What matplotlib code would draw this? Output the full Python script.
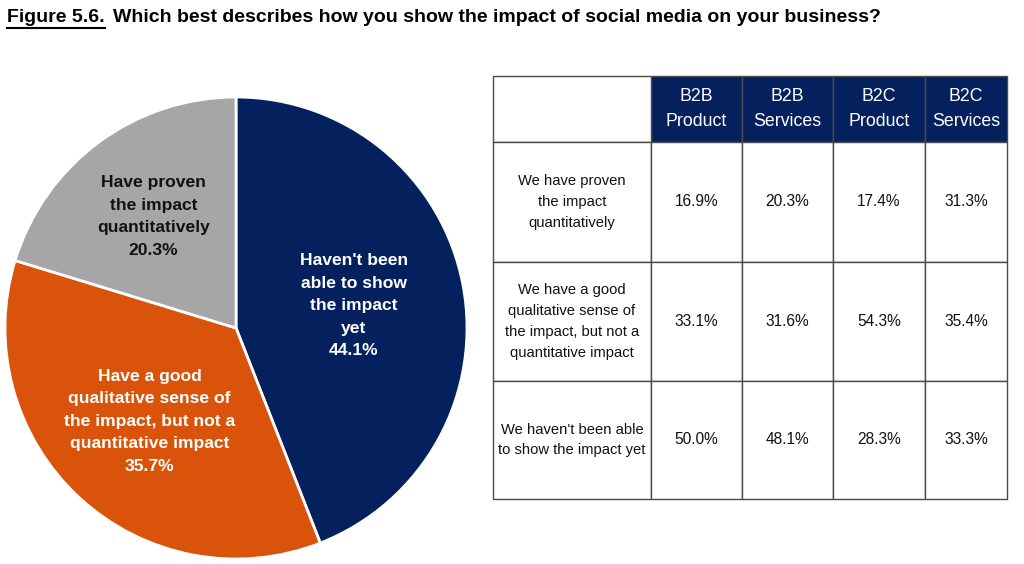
import numpy as np
import matplotlib
matplotlib.use('Agg')
import matplotlib.pyplot as plt
from matplotlib.patches import Rectangle

plt.rcParams['font.family'] = ['Liberation Sans', 'DejaVu Sans']

# pie data (clockwise from 12 o'clock)
pie_labels = ["Haven't been\nable to show\nthe impact\nyet",
              "Have a good\nqualitative sense of\nthe impact, but not a\nquantitative impact",
              "Have proven\nthe impact\nquantitatively"]
pie_values = [44.1, 35.7, 20.3]
pie_colors = ['#04215E', '#D9540A', '#A6A6A6']
pie_text_colors = ['white', 'white', '#111111']
pie_label_r = [0.52, 0.55, 0.60]

# table data
col_labels = ['B2B\nProduct', 'B2B\nServices', 'B2C\nProduct', 'B2C\nServices']
row_labels = ['We have proven\nthe impact\nquantitatively',
              'We have a good\nqualitative sense of\nthe impact, but not a\nquantitative impact',
              "We haven't been able\nto show the impact yet"]
b2b_product = [16.9, 33.1, 50.0]
b2b_services = [20.3, 31.6, 48.1]
b2c_product = [17.4, 54.3, 28.3]
b2c_services = [31.3, 35.4, 33.3]

W, H = 1024, 564
fig = plt.figure(figsize=(W / 100, H / 100), dpi=100)
fig.patch.set_facecolor('white')

# ---- pie ----
cx, cy, r = 236, 328, 231
pax = fig.add_axes([(cx - r) / W, (H - cy - r) / H, 2 * r / W, 2 * r / H])
wedges, _ = pax.pie(pie_values, colors=pie_colors, startangle=90, counterclock=False,
                    wedgeprops=dict(edgecolor='white', linewidth=2))
pax.set_xlim(-1, 1)
pax.set_ylim(-1, 1)
pax.set_aspect('equal')
for w, lab, val, tc, lr in zip(wedges, pie_labels, pie_values, pie_text_colors, pie_label_r):
    ang = np.deg2rad((w.theta1 + w.theta2) / 2)
    pax.text(lr * np.cos(ang), lr * np.sin(ang), lab + '\n%.1f%%' % val,
             ha='center', va='center', color=tc, fontsize=12.6, fontweight='bold',
             linespacing=1.62)

# ---- overlay for title and table ----
ax = fig.add_axes([0, 0, 1, 1])
ax.set_xlim(0, W)
ax.set_ylim(H, 0)
ax.axis('off')

t1 = ax.text(7, 17, 'Figure 5.6.', fontsize=14, fontweight='bold', va='center', ha='left')
fig.canvas.draw()
bb = t1.get_window_extent().transformed(ax.transData.inverted())
ax.plot([bb.x0, bb.x1], [27.5, 27.5], color='black', lw=1.5)
ax.text(bb.x1 + 8, 17, 'Which best describes how you show the impact of social media on your business?',
        fontsize=14, fontweight='bold', va='center', ha='left')

xs = [493, 651, 742, 833, 925, 1007]
ys = [76, 142, 262, 381, 499]
line_c = '#4a4a4a'

# header
for j, lab in enumerate(col_labels):
    ax.add_patch(Rectangle((xs[j + 1], ys[0]), xs[j + 2] - xs[j + 1], ys[1] - ys[0],
                           facecolor='#04215E', edgecolor=line_c, lw=1))
    ax.text((xs[j + 1] + xs[j + 2]) / 2, (ys[0] + ys[1]) / 2, lab, color='white',
            fontsize=12.8, ha='center', va='center', linespacing=1.65)
ax.add_patch(Rectangle((xs[0], ys[0]), xs[1] - xs[0], ys[1] - ys[0],
                       facecolor='white', edgecolor=line_c, lw=1))

cols = [b2b_product, b2b_services, b2c_product, b2c_services]
for i, lab in enumerate(row_labels):
    y0, y1 = ys[i + 1], ys[i + 2]
    ax.add_patch(Rectangle((xs[0], y0), xs[1] - xs[0], y1 - y0,
                           facecolor='white', edgecolor=line_c, lw=1))
    ax.text((xs[0] + xs[1]) / 2, (y0 + y1) / 2, lab, fontsize=10.6, ha='center',
            va='center', color='#111111', linespacing=1.62)
    for j, col in enumerate(cols):
        ax.add_patch(Rectangle((xs[j + 1], y0), xs[j + 2] - xs[j + 1], y1 - y0,
                               facecolor='white', edgecolor=line_c, lw=1))
        ax.text((xs[j + 1] + xs[j + 2]) / 2, (y0 + y1) / 2, '%.1f%%' % col[i],
                fontsize=11.2, ha='center', va='center', color='#111111')

fig.savefig('out.png', dpi=100)
